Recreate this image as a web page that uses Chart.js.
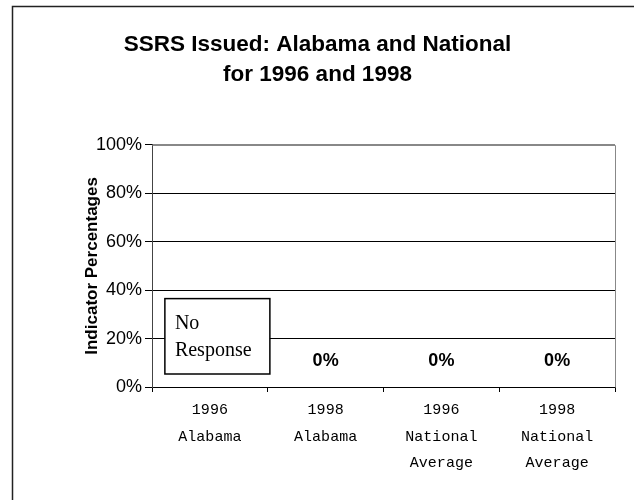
<!DOCTYPE html>
<html>
<head>
<meta charset="utf-8">
<script src="https://cdn.jsdelivr.net/npm/chart.js@4/dist/chart.umd.min.js"></script>
<style>
html,body{margin:0;padding:0;background:#fff;}
#wrap{width:634px;height:500px;position:relative;}
</style>
</head>
<body>
<div id="wrap"><canvas id="c" width="634" height="500"></canvas></div>
<script>
const categories = [
  ['1996', 'Alabama'],
  ['1998', 'Alabama'],
  ['1996', 'National', 'Average'],
  ['1998', 'National', 'Average']
];
const values = [null, 0, 0, 0];
const valueLabels = ['No Response', '0%', '0%', '0%'];
const yTicks = [0, 20, 40, 60, 80, 100];
const titleLines = ['SSRS Issued: Alabama and National', 'for 1996 and 1998'];
const yTitle = 'Indicator Percentages';

const frame = {
  id: 'frame',
  beforeDraw(chart) {
    const ctx = chart.ctx;
    ctx.save();
    ctx.fillStyle = '#fff';
    ctx.fillRect(0, 0, chart.width, chart.height);
    ctx.strokeStyle = '#222';
    ctx.lineWidth = 1.5;
    ctx.beginPath();
    ctx.moveTo(12.5, chart.height);
    ctx.lineTo(12.5, 6.5);
    ctx.lineTo(chart.width, 6.5);
    ctx.stroke();
    ctx.restore();
  },
  afterDraw(chart) {
    const ctx = chart.ctx, a = chart.chartArea;
    ctx.save();
    ctx.strokeStyle = '#888';
    ctx.lineWidth = 1;
    ctx.beginPath();
    ctx.moveTo(Math.round(a.left) + 0.5, Math.round(a.top) + 0.5);
    ctx.lineTo(Math.round(a.right) + 0.5, Math.round(a.top) + 0.5);
    ctx.lineTo(Math.round(a.right) + 0.5, Math.round(a.bottom) + 0.5);
    ctx.stroke();
    ctx.restore();
  }
};

const labelsPlugin = {
  id: 'valLabels',
  afterDatasetsDraw(chart) {
    const ctx = chart.ctx;
    const xs = chart.scales.x, ys = chart.scales.y;
    ctx.save();
    ctx.fillStyle = '#000';
    values.forEach((v, i) => {
      const cx = xs.getPixelForValue(i);
      const base = ys.getPixelForValue(0);
      if (v === null) {
        const bx = cx - 45, by = ys.getPixelForValue(36.5);
        const bw = 105, bh = base - 13 - by;
        ctx.strokeStyle = '#000';
        ctx.lineWidth = 1.5;
        ctx.fillStyle = '#fff';
        ctx.fillRect(bx, by, bw, bh);
        ctx.strokeRect(bx, by, bw, bh);
        ctx.fillStyle = '#000';
        ctx.font = '20px "Liberation Serif", "Times New Roman", serif';
        ctx.textAlign = 'left';
        ctx.textBaseline = 'middle';
        const words = valueLabels[i].split(' ');
        ctx.fillText(words[0], bx + 10, by + 25);
        ctx.fillText(words[1], bx + 10, by + 52);
      } else {
        ctx.font = 'bold 18px "Liberation Sans", Arial, sans-serif';
        ctx.textAlign = 'center';
        ctx.textBaseline = 'middle';
        ctx.fillText(valueLabels[i], cx, ys.getPixelForValue(v) - 26);
      }
    });
    ctx.restore();
  }
};

new Chart(document.getElementById('c'), {
  type: 'bar',
  data: {
    labels: categories,
    datasets: [{
      data: values,
      backgroundColor: '#9999ff',
      borderWidth: 0
    }]
  },
  plugins: [frame, labelsPlugin],
  options: {
    responsive: false,
    animation: false,
    devicePixelRatio: 1,
    layout: { padding: { left: 20, right: 19, top: 0, bottom: 0 } },
    plugins: {
      legend: { display: false },
      tooltip: { enabled: false },
      title: {
        display: true,
        text: titleLines,
        color: '#000',
        font: { family: '"Liberation Sans", Arial, sans-serif', size: 22.5, weight: 'bold', lineHeight: 1.33 },
        padding: { top: 30, bottom: 55 }
      }
    },
    scales: {
      x: {
        afterFit(scale) { scale.height = 113; },
        grid: {
          offset: true,
          drawOnChartArea: false,
          tickLength: 5,
          tickColor: '#000'
        },
        border: { color: '#000', width: 1 },
        ticks: {
          color: '#000',
          padding: 5,
          maxRotation: 0,
          autoSkip: false,
          font: { family: '"Liberation Mono", "Courier New", monospace', size: 15, lineHeight: 1.77 }
        }
      },
      y: {
        min: 0,
        max: 100,
        afterFit(scale) { scale.width = 132; },
        afterBuildTicks(scale) { scale.ticks = yTicks.map(v => ({ value: v })); },
        grid: {
          color: (c) => (c.tick && c.tick.value === 100) ? '#888' : '#000',
          tickColor: '#000',
          tickLength: 7,
          lineWidth: 1
        },
        border: { color: '#444', width: 1 },
        ticks: {
          color: '#000',
          padding: 3,
          callback: (v) => v + '%',
          font: { family: '"Liberation Sans", Arial, sans-serif', size: 18 }
        },
        title: {
          display: true,
          text: yTitle,
          color: '#000',
          padding: { top: 62, bottom: 0 },
          font: { family: '"Liberation Sans", Arial, sans-serif', size: 17, weight: 'bold' }
        }
      }
    }
  }
});
</script>
</body>
</html>
